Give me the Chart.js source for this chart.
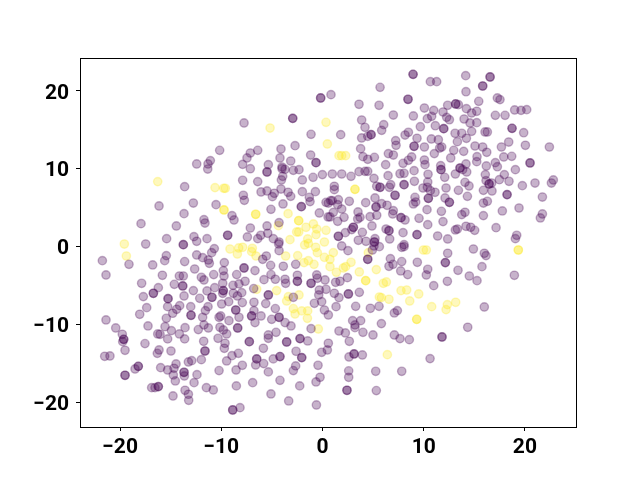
<!DOCTYPE html>
<html>
<head>
<meta charset="utf-8">
<script src="https://cdn.jsdelivr.net/npm/chart.js@4"></script>
<style>
body { margin: 0; background: #fff; }
canvas { display: block; }
</style>
</head>
<body>
<canvas id="scatter" width="640" height="480"></canvas>
<script>
// tick positions
const xTicks = [-20, -10, 0, 10, 20];
const yTicks = [-20, -10, 0, 10, 20];

// class 0 (purple), dark spots are listed twice
const purplePoints = [
[-0.18,19.09],[-0.18,19.09],[0.84,19.52],[-2.94,16.47],[-2.94,16.47],[-7.75,15.88],[-1.13,14.42],[-2.71,12.96],[-4.10,12.53],[-6.40,12.36],
[-7.13,12.02],[-10.16,12.36],[-1.17,11.76],[-4.20,11.38],[-7.46,11.38],[-0.64,10.78],[-0.64,10.78],[-3.14,10.99],[-11.08,11.04],[-11.31,10.61],
[-11.34,9.96],[-12.43,10.61],[-7.89,10.56],[-7.13,10.0],[-5.35,10.52],[-5.48,9.58],[-5.48,9.58],[-4.0,10.22],[-3.70,9.92],[-4.0,10.0],[-2.88,9.79],[-2.32,9.88],
[-3.93,9.02],[-4.06,8.55],[-0.01,9.24],[-0.93,8.89],[-1.99,8.55],[-7.89,8.51],[-6.40,8.34],[-13.62,7.69],[-4.10,7.39],[-6.07,7.01],
[-5.48,7.14],[-4.76,6.84],[-4.95,6.41],[-3.40,6.97],[-3.14,6.45],[-1.99,7.05],[-0.70,7.05],[-1.30,6.32],[-1.23,5.77],[-7.82,6.58],
[-7.72,5.94],[0.35,5.68],[0.81,5.9],[-2.09,5.12],[-2.09,5.12],[-3.90,5.47],[-12.76,5.59],[-10.52,5.38],[-16.15,5.21],[-5.09,4.78],[-13.68,4.22],
[-8.94,3.97],[-8.74,3.41],[-0.31,4.31],[0.55,3.8],[-11.71,3.45],[-11.61,3.02],[-17.93,2.94],[-14.44,2.64],[-7.13,2.38],[-5.48,2.64],
[-4.29,3.07],[-12.70,1.27],[-11.41,1.01],[-9.37,1.44],[-9.37,1.44],[-5.41,1.70],[-6.10,1.44],[-6.40,1.01],[-7.42,1.23],[-4.86,1.01],[-15.40,1.01],
[-12.43,0.67],[-13.75,0.24],[-13.75,0.24],[-17.47,0.32],[-4.29,0.58],[-4.33,0.33],[-4.29,-0.53],
[-19.12,-2.29],[-21.75,-1.82],[-21.39,-3.66],[-16.78,-2.37],[-15.59,-1.82],[-15.43,-1.17],[-13.62,-1.94],[-12.43,-1.09],[-11.84,-1.43],[-11.28,-1.73],
[-11.18,-2.16],[-10.95,-0.79],[-10.69,-0.27],[-9.70,-2.07],[-12.63,-2.89],[-15.82,-3.70],[-14.14,-3.79],[-13.75,-3.79],[-17.87,-4.73],[-16.22,-5.29],
[-14.64,-4.86],[-13.81,-5.07],[-13.81,-5.07],[-16.71,-6.01],[-16.71,-6.01],[-17.70,-6.44],[-15.26,-6.70],[-15.26,-6.70],[-13.68,-6.36],[-12.76,-5.67],[-11.97,-3.96],[-11.71,-4.30],[-10.75,-3.61],
[-9.80,-3.10],[-9.73,-3.79],[-8.48,-3.61],[-7.75,-2.76],[-7.75,-2.76],[-6.67,-3.10],[-9.86,-4.73],[-10.65,-5.29],[-11.41,-5.71],[-9.80,-5.67],[-9.80,-5.67],[-9.86,-6.01],
[-8.84,-4.99],[-8.25,-4.81],[-7.65,-4.47],[-8.81,-6.01],[-8.41,-6.36],[-7.98,-5.93],[-12.13,-6.66],[-10.92,-6.53],[-10.92,-6.53],[-9.96,-7.39],[-9.27,-7.09],
[-7.92,-7.21],[-6.77,-7.17],[-5.61,-7.34],[-5.35,-6.23],[-5.35,-6.23],[-6.8,-5.41],[-5.78,-4.26],[-5.12,-2.42],[-5.91,-1.64],[-5.55,-1.22],[-3.87,-2.54],
[-5.09,-3.61],[-4.66,-4.21],[-3.70,-4.21],[-3.64,-4.73],[-2.48,-3.70],[-2.48,-4.47],[-2.48,-4.47],[-1.13,-4.73],[-1.13,-4.73],[-0.57,-3.66],[-0.51,-4.09],[-2.88,-6.53],
[-0.31,-5.59],[-0.37,-6.23],[0.35,-5.50],[-0.80,-7.30],[-0.08,-7.09],[0.19,-8.16],[0.58,-8.80],[-4.66,-7.98],[-17.37,-7.86],[-18.06,-8.71],
[-15.30,-7.73],[-14.11,-7.60],[-14.41,-8.07],[-14.80,-8.58],[-13.02,-7.73],[-12.99,-8.84],[-12.99,-8.84],[-15.43,-9.23],[-11.31,-7.73],[-11.57,-8.24],[-11.84,-9.10],
[-10.22,-9.10],[-10.06,-8.93],[-9.24,-9.53],[-8.57,-8.16],[-8.57,-8.16],[-8.25,-9.10],[-6.77,-8.24],[-7.0,-8.93],[-7.0,-8.93],[-6.07,-8.93],[-6.67,-9.78],[-5.02,-9.36],
[-4.29,-9.10],[-4.29,-9.10],[-3.70,-9.78],[-3.11,-10.21],[-1.13,-10.56],[-21.39,-9.44],[-20.43,-10.47],[-19.78,-11.28],[-19.64,-11.93],[-19.64,-11.93],[-19.74,-12.23],
[-19.51,-13.34],[-21.52,-14.11],[-21.0,-14.07],[-17.24,-10.21],[-16.28,-11.24],[-16.05,-11.28],[-15.56,-10.30],[-14.93,-10.81],[-15.30,-11.88],[-14.14,-11.24],
[-13.58,-10.43],[-13.62,-11.88],[-12.27,-10.68],[-11.71,-10.08],[-11.28,-10.47],[-10.13,-10.38],[-9.80,-10.73],[-9.47,-11.24],[-10.32,-11.80],[-9.63,-12.44],
[-9.70,-13.08],[-11.74,-12.18],[-11.61,-13.43],[-11.61,-13.43],[-8.38,-10.47],[-8.38,-10.47],[-7.23,-12.23],[-7.23,-12.23],[-5.35,-11.37],[-5.35,-11.80],[-4.59,-11.03],[-3.54,-12.27],[-3.54,-12.27],
[-2.22,-11.84],[-2.22,-11.84],[-1.46,-12.14],[-5.84,-13.08],[-8.31,-13.73],[-8.94,-14.03],[-9.47,-14.71],[-6.50,-14.45],[-6.50,-14.45],[-6.60,-15.23],[-5.81,-15.05],[-4.86,-14.45],
[-4.20,-14.15],[-4.20,-14.15],[-2.61,-13.47],[-2.05,-14.28],[-2.05,-14.28],[-0.08,-13.60],[0.48,-13.30],[0.58,-12.44],[-17.54,-12.48],[-16.15,-13.30],[-16.32,-13.73],
[-14.97,-13.43],[-11.97,-14.54],[-12.92,-14.67],[-13.25,-14.84],[-14.47,-15.10],[-15.99,-15.57],[-15.30,-15.87],[-14.67,-15.65],[-14.74,-16.51],[-13.68,-16.17],
[-13.68,-16.17],[-13.65,-16.64],[-14.54,-17.28],[-12.69,-17.50],[-12.40,-16.47],[-18.52,-15.74],[-18.20,-15.40],[-18.20,-15.40],[-19.51,-16.55],[-19.51,-16.55],[-16.88,-18.14],[-16.55,-18.14],
[-16.22,-18.01],[-16.22,-18.01],[-13.58,-18.48],[-13.25,-18.99],[-13.22,-19.77],[-14.77,-19.21],[-11.47,-18.14],[-10.79,-18.44],[-10.22,-15.95],[-8.54,-15.87],
[-7.92,-15.27],[-5.35,-16.12],[-6.90,-17.50],[-8.51,-17.92],[-4.20,-17.20],[-5.09,-18.95],[-3.34,-19.85],[-2.25,-17.92],[-2.88,-15.95],[-2.65,-15.35],
[-0.44,-15.27],[-0.64,-17.41],[-0.24,-16.81],[-0.60,-20.37],[-8.15,-20.71],[-8.87,-21.01],[-8.87,-21.01],[-2.65,-2.29],
[8.95,22.13],[8.95,22.13],[10.66,21.19],[11.28,21.19],[14.15,21.96],[16.56,21.79],[16.56,21.79],[15.83,20.63],[15.83,20.63],[5.69,20.46],[14.18,19.90],[8.45,18.92],[8.45,18.92],[17.28,19.09],[17.54,18.88],
[15.44,18.66],[3.61,18.28],[5.59,18.15],[13.16,18.32],[13.16,18.32],[13.43,18.23],[12.37,18.15],[10.07,17.80],[10.99,17.50],[11.91,17.29],[14.22,17.72],
[14.74,17.16],[15.24,17.38],[18.99,17.55],[19.62,17.50],[20.18,17.59],[17.08,16.86],[18.04,16.86],[7.0,16.90],[8.98,16.78],[10.36,16.43],
[10.79,16.73],[12.27,16.60],[12.54,16.30],[13.99,16.39],[14.58,15.88],[15.24,15.92],[3.87,16.26],[4.20,15.32],[6.05,15.66],[5.85,14.93],
[9.67,15.40],[11.15,15.53],[11.98,15.15],[11.98,15.15],[18.73,15.19],[18.73,15.19],[19.88,14.63],[16.06,14.72],[16.29,14.72],[14.74,14.80],[13.10,14.55],[13.76,14.55],
[1.80,14.38],[8.49,14.68],[8.16,14.33],[4.80,14.38],[4.80,14.38],[4.47,14.16],[3.87,13.95],[9.34,13.91],[7.23,13.61],[7.27,13.01],[10.76,13.82],
[11.45,13.73],[13.33,13.48],[14.22,13.91],[18.40,13.43],[20.05,13.01],[22.42,12.79],[17.68,12.79],[15.07,12.92],[15.83,12.79],[16.23,12.11],
[9.05,12.88],[9.05,12.88],[10.07,12.79],[11.78,12.79],[11.58,12.66],[11.05,11.94],[12.97,12.36],[13.95,12.23],[3.77,12.58],[4.0,11.55],[4.47,11.21],[5.13,11.46],
[6.51,11.94],[7.0,11.76],[8.81,11.51],[8.49,11.08],[7.96,10.69],[12.67,11.38],[10.07,11.12],[10.13,10.52],[11.68,10.39],[11.71,9.88],[11.71,9.88],
[6.24,10.52],[15.27,11.55],[15.24,10.91],[17.91,11.51],[18.70,11.59],[17.08,10.78],[17.28,10.26],[20.51,10.74],[20.51,10.74],[14.18,10.61],[13.59,10.09],[13.59,10.09],
[13.85,9.88],[14.25,9.58],[16.19,10.35],[19.06,9.88],[9.05,9.75],[13.13,9.32],[16.09,9.24],[17.97,9.24],[3.61,9.62],[4.20,9.66],[4.47,9.66],
[7.66,9.36],[8.06,9.41],[6.48,9.11],[10.43,9.28],[0.97,9.32],[1.90,9.32],[2.82,9.02],[5.09,8.76],[12.08,8.89],[22.81,8.55],[22.62,8.16],
[21.0,8.16],[19.75,7.82],[18.43,8.38],[17.48,8.59],[16.16,8.47],[16.46,8.04],[16.46,8.04],[16.72,8.16],[14.08,8.25],[14.48,7.78],[9.08,8.38],[8.06,7.95],[8.06,7.95],
[6.74,7.95],[6.61,7.61],[5.69,7.61],[5.69,7.61],[5.36,7.74],[10.40,8.29],[9.93,7.52],[10.36,7.61],[11.12,6.97],[10.66,7.18],[12.21,7.52],[13.43,7.22],
[15.90,7.22],[16.75,7.14],[1.17,7.74],[1.17,7.31],[7.17,6.58],[7.17,6.58],[5.19,6.24],[18.24,6.67],[18.24,6.67],[21.73,6.36],[14.32,6.45],[12.11,6.24],[12.54,5.68],[12.54,5.68],
[10.46,6.19],[10.46,6.19],[9.14,6.32],[8.98,5.47],[9.21,5.72],[0.58,5.59],[0.97,5.90],[1.57,6.02],[1.50,5.38],[2.65,5.81],[4.27,5.64],
[5.29,5.08],[5.29,5.08],[5.85,5.51],[6.38,5.30],[15.90,5.59],[16.29,5.81],[19.42,4.95],[10.33,4.74],[11.75,4.52],[7.0,4.61],[6.94,4.18],
[3.51,4.44],[5.36,4.01],[4.70,3.84],[1.07,4.39],[0.74,3.80],[1.90,4.82],[2.13,3.75],[1.50,3.24],[3.48,3.54],[3.71,3.75],[7.76,3.71],[7.76,3.71],
[8.16,3.41],[9.54,3.62],[14.08,4.40],[13.76,4.10],[15.90,3.97],[17.77,4.57],[21.73,4.18],[21.53,3.67],[11.91,3.20],[10.40,2.81],[4.89,2.64],
[3.05,2.47],[3.05,2.47],[2.89,2.17],[2.26,1.78],[1.57,1.31],[1.57,1.31],[3.94,1.82],[6.57,2.04],[6.57,2.04],[6.28,2.25],[7.96,1.78],[9.34,1.52],[9.34,1.52],[11.38,1.35],[12.37,0.97],
[13.13,2.13],[13.33,2.25],[14.18,2.60],[14.64,2.47],[15.04,2.08],[17.15,2.42],[19.19,1.44],[19.06,1.01],[5.19,1.01],[5.13,0.58],[5.13,0.58],[3.54,0.80],
[4.30,0.67],[6.64,0.97],[8.06,0.24],
[5.09,0.07],[5.62,-0.02],[4.93,-0.45],[1.90,0.07],[2.52,-0.53],[8.06,-0.02],[7.83,-0.10],[12.37,-0.87],[14.91,-0.32],[15.99,-0.87],[16.16,-1.17],
[6.71,-1.56],[4.47,-1.64],[4.47,-1.64],[7.83,-1.94],[6.97,-2.29],[6.57,-2.54],[9.37,-2.03],[12.14,-2.07],[12.14,-2.07],[15.76,-2.59],[10.40,-2.93],[10.26,-3.66],
[13.39,-3.06],[7.73,-3.14],[8.42,-3.61],[14.51,-3.79],[15.27,-4.39],[18.96,-3.70],[12.34,-4.47],[10.99,-5.03],[2.46,-4.0],[1.73,-4.47],
[1.30,-4.60],[3.64,-5.89],[2.56,-6.10],[2.56,-6.10],[1.17,-6.01],[1.63,-6.57],[0.25,-4.30],[1.34,-7.73],[3.28,-7.69],[4.73,-7.94],[5.59,-7.69],
[7.40,-8.24],[7.10,-8.54],[15.99,-7.77],[2.98,-9.53],[3.77,-9.53],[3.21,-10.08],[3.21,-10.43],[5.82,-9.91],[14.35,-10.38],[1.63,-10.86],
[2.26,-11.11],[4.0,-11.03],[4.99,-11.37],[7.10,-11.37],[7.66,-11.84],[8.58,-11.97],[11.81,-11.63],[11.81,-11.63],[2.65,-12.18],[3.12,-13.81],[3.12,-13.81],[2.62,-14.20],
[3.94,-13.94],[10.63,-14.41],[2.59,-15.98],[2.59,-16.81],[5.26,-16.04],[7.83,-16.04],[2.42,-18.48],[2.42,-18.48],[5.32,-18.52]
];

// class 1 (yellow)
const yellowPoints = [
[-5.18,15.23],[0.35,15.96],[0.48,13.18],[-16.28,8.34],[-10.62,7.57],[-9.76,7.48],[-9.60,7.48],[-9.73,4.70],[-9.73,4.70],[-6.60,4.14],[-6.60,4.14],
[-3.40,4.22],[-4.36,2.68],[-2.35,3.32],[-2.35,3.32],[-2.35,1.87],[-2.55,1.87],[-1.63,2.47],[-0.90,2.90],[-0.57,2.25],[-0.64,1.52],[0.35,2.08],
[-19.58,0.32],[-3.21,0.88],[-1.46,0.97],[0.19,0.58],[-19.38,-1.22],[-6.50,-5.50],[-9.14,-0.32],[-8.41,-0.96],[-8.28,-0.19],[-7.89,-0.10],
[-6.93,-0.23],[-7.0,-0.66],[-6.57,-1.22],[-3.64,-1.22],[-2.45,-1.17],[-1.82,-2.07],[-1.40,-1.82],[-0.84,-2.29],[-1.76,0.20],[-1.40,0.41],
[-0.67,-0.10],[-0.51,-0.79],[0.19,-1.39],[0.74,-1.64],[-4.53,-5.67],[-3.54,-7.0],[-3.37,-6.44],[-2.32,-6.23],[-2.88,-7.98],[-2.71,-8.67],
[-2.05,-8.28],[-1.46,-8.28],[-1.49,-9.23],[0.74,-2.59],[-0.41,-10.60],[1.63,11.68],[1.90,11.68],[2.29,11.68],[3.21,7.35],[3.21,7.35],
[1.07,-0.79],[4.53,-0.79],[19.35,-0.45],[19.35,-0.45],[9.97,-0.45],[10.26,-0.45],[2.82,-2.03],[2.29,-2.59],[2.06,-2.76],[1.37,-3.32],[3.64,-3.27],
[5.32,-2.97],[4.27,-4.39],[4.27,-4.39],[6.01,-4.73],[6.31,-4.56],[7.76,-5.67],[8.32,-5.59],[9.51,-6.10],[8.62,-7.0],[6.57,-6.78],[5.62,-6.49],
[5.82,-6.57],[10.79,-7.73],[12.34,-7.47],[12.21,-8.11],[13.16,-7.17],[9.31,-9.36],[9.31,-9.36],[6.41,-13.90]
];

// outer frame, chart.js only draws the two axis lines
// also nudges the y labels down a bit, matplotlib centres them lower
const framePlugin = {
    id: 'frame',
    beforeDraw(chart) {
        chart.scales.y.getLabelItems().forEach(item => { item.textOffset += 2.5; });
    },
    afterDraw(chart) {
        const a = chart.chartArea;
        const ctx = chart.ctx;
        ctx.save();
        ctx.strokeStyle = '#000';
        ctx.lineWidth = 1;
        ctx.strokeRect(a.left + 0.5, a.top + 0.5, a.right - a.left, a.bottom - a.top);
        ctx.restore();
    }
};

function axisOptions(min, max, tickValues, fit, pad) {
    return {
        type: 'linear',
        min: min,
        max: max,
        afterBuildTicks(scale) {
            scale.ticks = tickValues.map(v => ({ value: v }));
        },
        afterFit: fit,
        grid: { display: true, drawOnChartArea: false, drawTicks: true, tickLength: 4, tickWidth: 1, tickColor: '#000' },
        border: { display: true, color: '#000', width: 1 },
        ticks: {
            color: '#000',
            padding: pad,
            maxRotation: 0,
            autoSkip: false,
            font: { family: 'Roboto', size: 21, weight: 'bold' },
            callback: v => String(v).replace('-', '\u2212')
        }
    };
}

const scatterCtx = document.getElementById('scatter').getContext('2d');
const scatterChart = new Chart(scatterCtx, {
    type: 'scatter',
    data: {
        datasets: [
            {
                data: purplePoints.map(p => ({ x: p[0], y: p[1] })),
                backgroundColor: 'rgba(68, 1, 84, 0.3)',
                borderColor: 'rgba(68, 1, 84, 0.3)',
                borderWidth: 1.39,
                pointRadius: 4.17
            },
            {
                data: yellowPoints.map(p => ({ x: p[0], y: p[1] })),
                backgroundColor: 'rgba(253, 231, 37, 0.3)',
                borderColor: 'rgba(253, 231, 37, 0.3)',
                borderWidth: 1.39,
                pointRadius: 4.17
            }
        ]
    },
    options: {
        responsive: false,
        animation: false,
        layout: { padding: { left: 0, top: 58, right: 64, bottom: 0 } },
        plugins: { legend: { display: false }, title: { display: false }, tooltip: { enabled: false } },
        scales: {
            x: axisOptions(-23.96, 25.05, xTicks, s => { s.height = 53; }, 4),
            y: axisOptions(-23.2, 24.23, yTicks, s => { s.width = 80; }, 7)
        }
    },
    plugins: [framePlugin]
});
</script>
</body>
</html>
